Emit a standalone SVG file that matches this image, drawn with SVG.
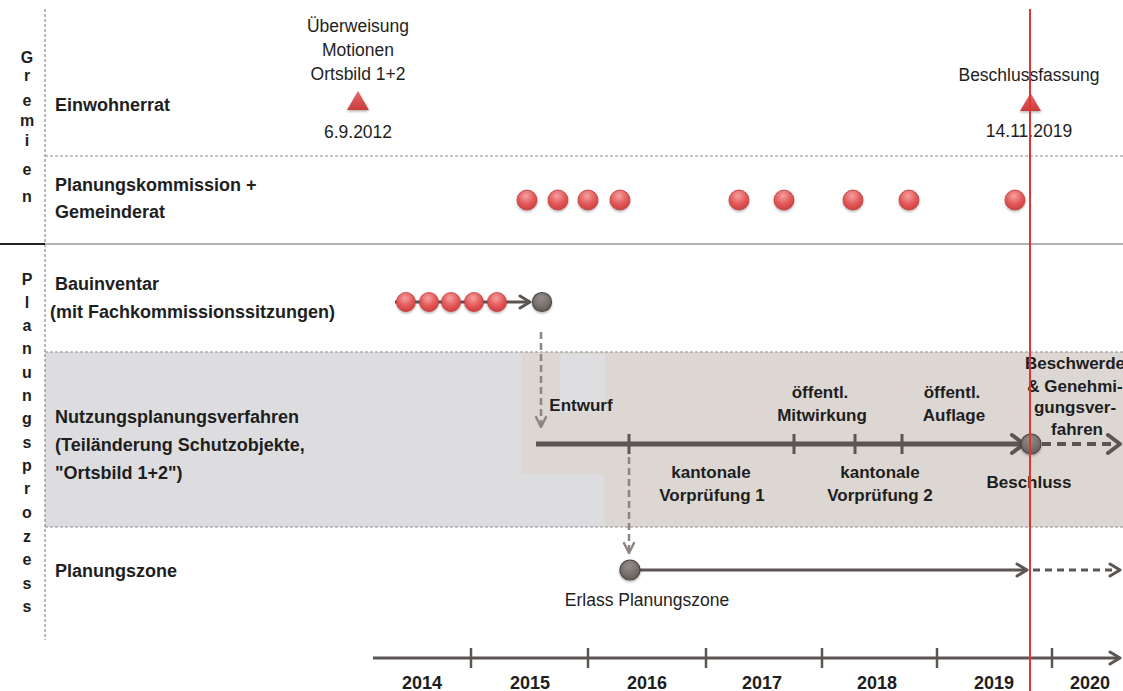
<svg xmlns="http://www.w3.org/2000/svg" width="1123" height="691" viewBox="0 0 1123 691">
<style>
.lbl{font-family:"Liberation Sans",Arial,sans-serif;font-weight:bold;font-size:18px;fill:#1e1e1e}
.vl{font-family:"Liberation Sans",Arial,sans-serif;font-weight:bold;font-size:16px;fill:#1e1e1e;text-anchor:middle}
.bt{font-family:"Liberation Sans",Arial,sans-serif;font-weight:bold;font-size:17px;fill:#1e1e1e;text-anchor:middle}
.rt{font-family:"Liberation Sans",Arial,sans-serif;font-size:17.5px;fill:#1e1e1e;text-anchor:middle}
.yr{font-family:"Liberation Sans",Arial,sans-serif;font-weight:bold;font-size:18px;fill:#1e1e1e;text-anchor:middle}
.dash{stroke:#8c8c8c;stroke-width:1.2;stroke-dasharray:3 2;fill:none}
.tl{stroke:#5b5553;fill:none}
.gdash{stroke:#8d8582;stroke-width:2.5;stroke-dasharray:7 4;fill:none}
.red{fill:url(#gRed);stroke:#c23b3b;stroke-width:0.8;filter:url(#sh)}
.gray{fill:url(#gGray);stroke:#4d4644;stroke-width:1.2;filter:url(#sh)}
.tri{fill:url(#gTri);filter:url(#sh)}
</style>
<defs>
<radialGradient id="gRed" cx="45%" cy="30%" r="70%"><stop offset="0" stop-color="#f6a0a0"/><stop offset="0.6" stop-color="#e25858"/><stop offset="1" stop-color="#d04040"/></radialGradient>
<radialGradient id="gGray" cx="45%" cy="30%" r="70%"><stop offset="0" stop-color="#958e8b"/><stop offset="1" stop-color="#645d5a"/></radialGradient>
<linearGradient id="gTri" x1="0" y1="0" x2="0" y2="1"><stop offset="0" stop-color="#e86a6a"/><stop offset="1" stop-color="#c93c3c"/></linearGradient>
<filter id="sh" x="-40%" y="-40%" width="180%" height="190%"><feDropShadow dx="0" dy="1.5" stdDeviation="1.2" flood-color="#000" flood-opacity="0.3"/></filter>
<marker id="aThick" markerUnits="userSpaceOnUse" markerWidth="16" markerHeight="22" viewBox="0 0 16 22" refX="14" refY="11" orient="auto"><path d="M2,2 L14,11 L2,20" fill="none" stroke="#5b5553" stroke-width="4" stroke-linecap="round" stroke-linejoin="round"/></marker>
<marker id="aMed" markerUnits="userSpaceOnUse" markerWidth="14" markerHeight="16" viewBox="0 0 14 16" refX="12" refY="8" orient="auto"><path d="M2,2 L12,8 L2,14" fill="none" stroke="#5b5553" stroke-width="3" stroke-linecap="round" stroke-linejoin="round"/></marker>
<marker id="aGray" markerUnits="userSpaceOnUse" markerWidth="14" markerHeight="14" viewBox="0 0 14 14" refX="12" refY="7" orient="auto"><path d="M2,2 L12,7 L2,12" fill="none" stroke="#8d8582" stroke-width="2.5" stroke-linecap="round" stroke-linejoin="round"/></marker>
</defs>

<g id="background">
<rect x="45" y="352" width="1078" height="175" fill="#dddde0"/>
<polygon points="522,352 1123,352 1123,527 604,527 604,474 522,474" fill="#dcd7d2"/>
<rect x="560" y="354" width="45" height="58" fill="#dedde0"/>
</g>

<g id="grid">
<line x1="45" y1="9" x2="45" y2="640" class="dash"/>
<line x1="45" y1="156" x2="1123" y2="156" class="dash"/>
<line x1="45" y1="352" x2="1123" y2="352" class="dash"/>
<line x1="45" y1="527" x2="1123" y2="527" class="dash"/>
<line x1="0" y1="244" x2="45" y2="244" stroke="#222" stroke-width="2"/>
<line x1="45" y1="244" x2="1123" y2="244" stroke="#999" stroke-width="1.5"/>
</g>

<g id="group-gremien">
<text class="vl"><tspan x="27" y="63">G</tspan><tspan x="27" y="81">r</tspan><tspan x="27" y="106">e</tspan><tspan x="27" y="126">m</tspan><tspan x="27" y="146">i</tspan><tspan x="27" y="175">e</tspan><tspan x="27" y="202">n</tspan></text>
</g>
<g id="group-planungsprozess">
<text class="vl"><tspan x="27" y="285">P</tspan><tspan x="27" y="308">l</tspan><tspan x="27" y="331">a</tspan><tspan x="27" y="354">n</tspan><tspan x="27" y="378">u</tspan><tspan x="27" y="401">n</tspan><tspan x="27" y="424">g</tspan><tspan x="27" y="448">s</tspan><tspan x="27" y="471">p</tspan><tspan x="27" y="494">r</tspan><tspan x="27" y="518">o</tspan><tspan x="27" y="542">z</tspan><tspan x="27" y="565">e</tspan><tspan x="27" y="589">s</tspan><tspan x="27" y="612">s</tspan></text>
</g>

<g id="lane-einwohnerrat"><text class="lbl" x="55" y="111">Einwohnerrat</text></g>
<g id="lane-planungskommission"><text class="lbl" x="55" y="191">Planungskommission +</text><text class="lbl" x="55" y="218">Gemeinderat</text></g>
<g id="lane-bauinventar"><text class="lbl" x="55" y="290">Bauinventar</text><text class="lbl" x="50" y="318">(mit Fachkommissionssitzungen)</text></g>
<g id="lane-nutzungsplanung"><text class="lbl" x="55" y="423">Nutzungsplanungsverfahren</text><text class="lbl" x="55" y="451">(Teiländerung Schutzobjekte,</text><text class="lbl" x="55" y="479">"Ortsbild 1+2")</text></g>
<g id="lane-planungszone"><text class="lbl" x="55" y="577">Planungszone</text></g>

<g id="connectors">
<line x1="395" y1="302" x2="530" y2="302" class="tl" stroke-width="3" marker-end="url(#aMed)"/>
<line x1="541" y1="332" x2="541" y2="427" class="gdash" marker-end="url(#aGray)"/>
<line x1="536" y1="444" x2="1024" y2="444" class="tl" stroke-width="5" marker-end="url(#aThick)"/>
<line x1="1042" y1="444" x2="1120" y2="444" class="tl" stroke-width="4" stroke-dasharray="9 6" marker-end="url(#aThick)"/>
<line x1="629" y1="457" x2="629" y2="553" class="gdash" marker-end="url(#aGray)"/>
<line x1="640" y1="570" x2="1027" y2="570" class="tl" stroke-width="3" marker-end="url(#aMed)"/>
<line x1="1033" y1="570" x2="1120" y2="570" class="tl" stroke-width="3" stroke-dasharray="7 5" marker-end="url(#aMed)"/>
<g class="tl" stroke-width="3">
<line x1="629" y1="434" x2="629" y2="454"/><line x1="794" y1="434" x2="794" y2="454"/><line x1="855" y1="434" x2="855" y2="454"/><line x1="902" y1="434" x2="902" y2="454"/>
</g>
</g>

<g id="event-ueberweisung">
<polygon class="tri" points="347,110 358,91 369,110"/>
<text class="rt" x="358" y="32">Überweisung</text>
<text class="rt" x="358" y="56">Motionen</text>
<text class="rt" x="358" y="80">Ortsbild 1+2</text>
<text class="rt" x="358" y="138">6.9.2012</text>
</g>
<g id="event-beschlussfassung">
<polygon class="tri" points="1020,111 1030.5,93 1041,111"/>
<text class="rt" x="1029" y="81" font-size="17">Beschlussfassung</text>
<text class="rt" x="1029" y="137">14.11.2019</text>
</g>

<g id="meetings-gremien">
<circle class="red" cx="527" cy="200" r="10"/><circle class="red" cx="558" cy="200" r="10"/><circle class="red" cx="588" cy="200" r="10"/><circle class="red" cx="620" cy="200" r="10"/>
<circle class="red" cx="739" cy="200" r="10"/><circle class="red" cx="784" cy="200" r="10"/><circle class="red" cx="853" cy="200" r="10"/><circle class="red" cx="909" cy="200" r="10"/><circle class="red" cx="1015" cy="200" r="10"/>
</g>

<g id="meetings-bauinventar">
<circle class="red" cx="406" cy="302" r="9.5"/><circle class="red" cx="429" cy="302" r="9.5"/><circle class="red" cx="451" cy="302" r="9.5"/><circle class="red" cx="474" cy="302" r="9.5"/><circle class="red" cx="497" cy="302" r="9.5"/>
<circle class="gray" cx="542" cy="302" r="9.5"/>
</g>

<g id="nutzungsplanung-steps">
<text class="bt" x="581" y="411">Entwurf</text>
<text class="bt" x="820" y="398">öffentl.</text>
<text class="bt" x="822" y="421">Mitwirkung</text>
<text class="bt" x="952" y="398">öffentl.</text>
<text class="bt" x="954" y="421">Auflage</text>
<text class="bt" x="1075" y="369" font-size="16">Beschwerde</text>
<text class="bt" x="1075" y="392" font-size="16">&amp; Genehmi-</text>
<text class="bt" x="1075" y="413" font-size="16">gungsver-</text>
<text class="bt" x="1077" y="435" font-size="16">fahren</text>
<text class="bt" x="711" y="478">kantonale</text>
<text class="bt" x="712" y="501">Vorprüfung 1</text>
<text class="bt" x="880" y="478">kantonale</text>
<text class="bt" x="880" y="501">Vorprüfung 2</text>
<text class="bt" x="1029" y="488">Beschluss</text>
<circle class="gray" cx="1031" cy="444" r="10"/>
</g>

<g id="planungszone-start">
<circle class="gray" cx="630" cy="570" r="10"/>
<text class="rt" x="647" y="606" font-size="17">Erlass Planungszone</text>
</g>

<g id="axis">
<line x1="373" y1="658" x2="1120" y2="658" class="tl" stroke-width="3" marker-end="url(#aMed)"/>
<g class="tl" stroke-width="2.5">
<line x1="471" y1="648" x2="471" y2="668"/><line x1="588" y1="648" x2="588" y2="668"/><line x1="706" y1="648" x2="706" y2="668"/><line x1="822" y1="648" x2="822" y2="668"/><line x1="937" y1="648" x2="937" y2="668"/><line x1="1052" y1="648" x2="1052" y2="668"/>
</g>
<text class="yr" x="422" y="689">2014</text><text class="yr" x="530" y="689">2015</text><text class="yr" x="647" y="689">2016</text><text class="yr" x="762" y="689">2017</text><text class="yr" x="877" y="689">2018</text><text class="yr" x="994" y="689">2019</text><text class="yr" x="1090" y="689">2020</text>
</g>

<g id="today-line">
<line x1="1030" y1="9" x2="1030" y2="691" stroke="#e03434" stroke-width="2"/>
</g>
</svg>
